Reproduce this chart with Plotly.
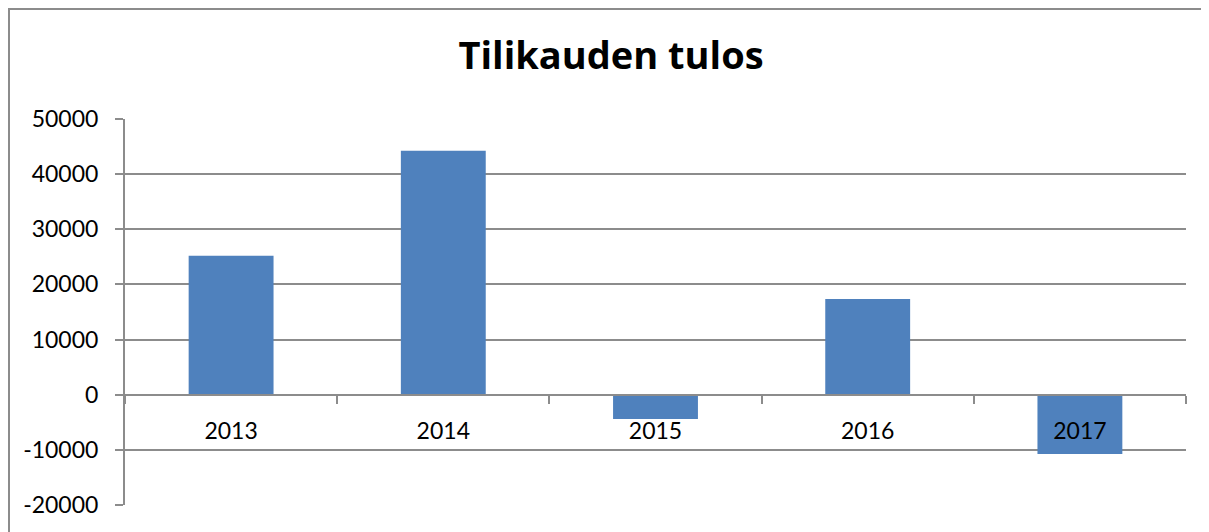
import plotly.graph_objects as go

years = ["2013", "2014", "2015", "2016", "2017"]
tulos = [25200, 44250, -4400, 17350, -10750]
y_ticks = [-20000, -10000, 0, 10000, 20000, 30000, 40000, 50000]
y_tick_labels = ["-20000", "-10000", "0", "10000", "20000", "30000", "40000", "50000"]

# page has an 8px body margin; figure sized to reach the window's right/bottom edges
OFF = 8
W, H = 1209 - OFF, 532 - OFF
plot_l, plot_r, plot_t, plot_b = 125, 1186, 119, 505  # target page pixels
ml = plot_l - OFF
mt = plot_t - OFF
mr = W - (plot_r - OFF)
mb = H - (plot_b - OFF)
pw, ph = W - ml - mr, H - mt - mb

grid_col = "#8C8C8C"
tick_font = "Lato, Calibri, Carlito, sans-serif"
title_font = "Open Sans, Calibri, Carlito, sans-serif"

fig = go.Figure()
fig.add_trace(go.Bar(
    x=years, y=tulos,
    marker=dict(color="#4F81BD", line=dict(width=0)),
    width=0.4,
    hoverinfo="x+y",
))

y_min, y_max = y_ticks[0], y_ticks[-1]
zero_pos = (0 - y_min) / (y_max - y_min)

fig.update_layout(
    width=W, height=H,
    margin=dict(l=ml, r=mr, t=mt, b=mb, autoexpand=False),
    paper_bgcolor="white", plot_bgcolor="white",
    showlegend=False,
    title=dict(
        text="Tilikauden tulos",
        x=(611 - OFF) / W, xanchor="center",
        y=1 - (56 - OFF) / H, yanchor="middle",
        font=dict(family=title_font, size=38, color="black", weight="bold"),
    ),
    xaxis=dict(
        type="category",
        anchor="free", position=zero_pos,
        automargin=False,
        showline=True, linecolor=grid_col, linewidth=2,
        showgrid=False, zeroline=False,
        ticks="outside", tickson="boundaries", ticklen=8,
        tickcolor=grid_col, tickwidth=2,
        ticklabelstandoff=16,
        tickfont=dict(family=tick_font, size=23, color="black"),
        fixedrange=True,
    ),
    yaxis=dict(
        range=[y_min, y_max],
        automargin=False,
        tickmode="array", tickvals=y_ticks, ticktext=y_tick_labels,
        showline=True, linecolor=grid_col, linewidth=2,
        showgrid=True, gridcolor=grid_col, gridwidth=2,
        zeroline=False,
        ticks="outside", ticklen=8, tickcolor=grid_col, tickwidth=2,
        ticklabelstandoff=12,
        tickfont=dict(family=tick_font, size=23, color="black"),
        fixedrange=True,
    ),
)

# outer chart border: only left and top edges are visible in the window
bx0 = (1 - ml) / pw
bx1 = (W + 10 - ml) / pw
by0 = -(mb + 10) / ph
by1 = (H - mb - 1) / ph
fig.add_shape(
    type="path", xref="paper", yref="paper",
    path=f"M {bx0} {by0} L {bx0} {by1} L {bx1} {by1}",
    line=dict(color=grid_col, width=2),
    layer="below",
)

fig.write_html("out.html", config={"displayModeBar": False})
